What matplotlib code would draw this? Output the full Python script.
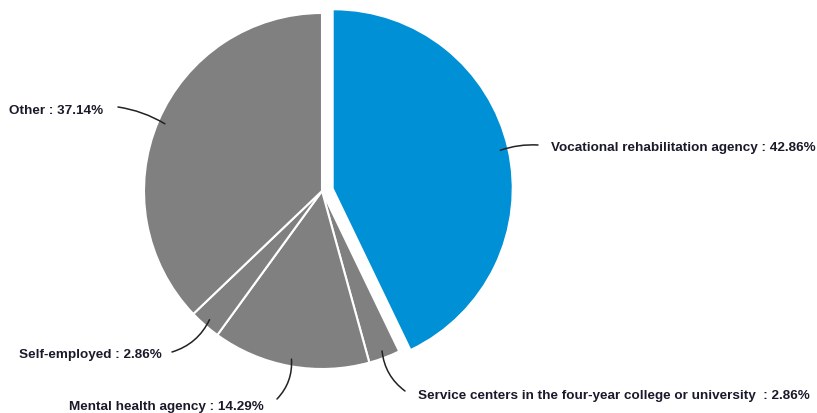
import numpy as np
import matplotlib
matplotlib.use("Agg")
import matplotlib.pyplot as plt

categories = [
    "Vocational rehabilitation agency",
    "Service centers in the four-year college or university ",
    "Mental health agency",
    "Self-employed",
    "Other",
]
shares = [42.86, 2.86, 14.29, 2.86, 37.14]
colors = ["#0090D6", "#808080", "#808080", "#808080", "#808080"]
explode_px = [12, 0, 0, 0, 0]

W, H = 817, 414
cx, cy, R = 322, H - 192, 178

# label layout: text anchor (x, y from top), alignment, leader end (x, y from top), curvature
label_layout = [
    ((551, 148), "left", (538, 146), 0.1),
    ((418, 396), "left", (405, 392), -0.22),
    ((69, 407), "left", (277, 400), 0.22),
    ((19, 355), "left", (172, 353), 0.22),
    ((103, 111), "right", (118, 108), -0.1),
]

fig = plt.figure(figsize=(W / 100, H / 100), dpi=100)
ax = fig.add_axes([0, 0, 1, 1])
ax.set_xlim(0, W)
ax.set_ylim(0, H)
ax.set_aspect("equal")
ax.axis("off")

total = sum(shares)
start = 90.0
for i, (name, v) in enumerate(zip(categories, shares)):
    sweep = v / total * 360.0
    theta2 = start
    theta1 = start - sweep
    mid = np.deg2rad((theta1 + theta2) / 2)
    ox = explode_px[i] * np.cos(mid)
    oy = explode_px[i] * np.sin(mid)
    w = matplotlib.patches.Wedge((cx + ox, cy + oy), R, theta1, theta2,
                                 facecolor=colors[i], edgecolor="white",
                                 linewidth=1.5 if i > 0 else 0)
    ax.add_patch(w)
    # leader line and label
    px = cx + ox + 0.96 * R * np.cos(mid)
    py = cy + oy + 0.96 * R * np.sin(mid)
    (tx, ty), ha, (ex, ey), rad = label_layout[i]
    ax.annotate("", xy=(px, py), xytext=(ex, H - ey),
                arrowprops=dict(arrowstyle="-", color="#222222", lw=1.1,
                                shrinkA=0, shrinkB=0,
                                connectionstyle=f"arc3,rad={rad}"))
    ax.text(tx, H - ty, f"{name} : {v:.2f}%", ha=ha, va="center",
            fontsize=9.7, fontweight="bold", family="Liberation Sans",
            color="#1a1a2a")
    start = theta1

fig.savefig("out.png", dpi=100)
